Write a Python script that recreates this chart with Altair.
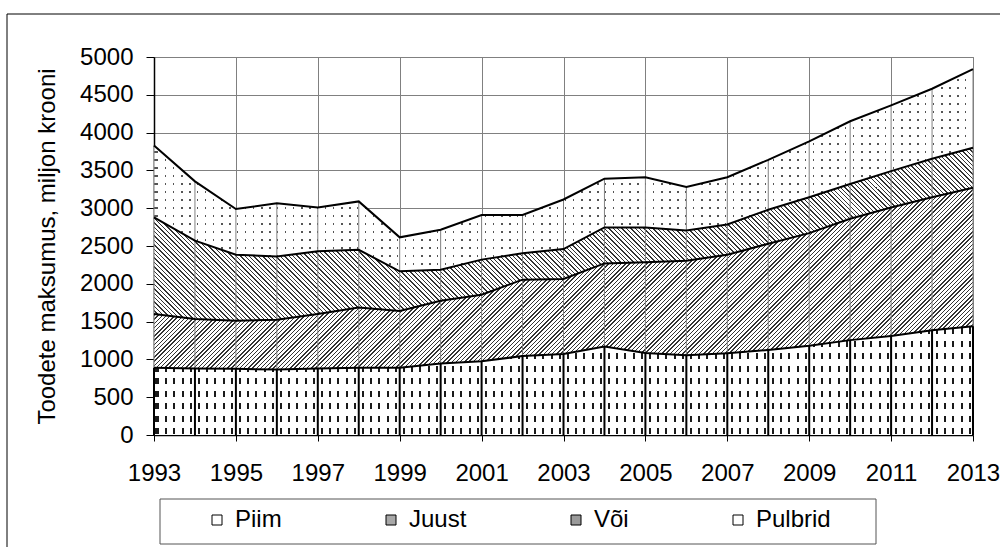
import altair as alt
import pandas as pd

# Dairy product output value, million kroons, by product group
years = list(range(1993, 2014))
piim = [890, 880, 875, 865, 880, 890, 890, 945, 975, 1045, 1070, 1170,
        1085, 1055, 1080, 1125, 1180, 1255, 1310, 1385, 1440]
juust = [710, 655, 635, 660, 720, 795, 750, 830, 880, 1010, 995, 1100,
         1200, 1250, 1305, 1405, 1490, 1605, 1700, 1760, 1830]
voi = [1280, 1035, 875, 835, 830, 765, 525, 410, 465, 350, 395, 475,
       460, 400, 400, 450, 475, 460, 480, 510, 530]
pulbrid = [950, 785, 605, 705, 580, 640, 450, 530, 590, 505, 655, 645,
           665, 575, 625, 660, 740, 830, 870, 925, 1040]
series_names = ["Piim", "Juust", "Või", "Pulbrid"]
x_tick_years = list(range(1993, 2014, 2))
y_ticks = list(range(0, 5001, 500))

W, H, YMAX = 819, 378, 5000
FONT = "Liberation Sans"

rows = []
for i, yr in enumerate(years):
    lo = 0
    for name, vals in zip(series_names, [piim, juust, voi, pulbrid]):
        hi = lo + vals[i]
        rows.append({"year": yr, "series": name, "value": vals[i], "lo": lo, "hi": hi})
        lo = hi
df = pd.DataFrame(rows)

rule_df = pd.DataFrame({"year": years, "zero": [0] * len(years), "piim": piim,
                        "total": [a + b + c + d for a, b, c, d in zip(piim, juust, voi, pulbrid)]})


def px(v):
    return v * H / YMAX


def band_stops(span, period, width, on_col, off_col, phase=0.0):
    """Hard-edged repeating stripes along a gradient that is `span` pixels long."""
    stops = []
    start = phase
    while start < span:
        s, e, n = start, start + width, start + period
        for off, col in ((s, on_col), (e, on_col), (e, off_col), (n, off_col)):
            o = round(min(off / span, 1.0), 5)
            stops.append(alt.GradientStop(offset=o, color=col))
        start = n
    return stops


def columns_fill(period, width, col):
    return alt.LinearGradient(gradient="linear", x1=0, y1=0, x2=1, y2=0,
                              stops=band_stops(W, period, width, col, "white", phase=3))


def rows_mask(hb, period, window):
    return alt.LinearGradient(gradient="linear", x1=0, y1=0, x2=0, y2=1,
                              stops=band_stops(hb, period, window, "rgba(255,255,255,0)", "white", phase=2))


def diagonal_fill(hb, period, width, col, rising=True):
    span = W + hb
    a = round(W * span / (W * W + hb * hb), 5)
    b = round(hb * span / (W * W + hb * hb), 5)
    stops = band_stops(span, period, width, col, "white", phase=1)
    if rising:
        return alt.LinearGradient(gradient="linear", x1=0, y1=0, x2=a, y2=b, stops=stops)
    return alt.LinearGradient(gradient="linear", x1=0, y1=1, x2=a, y2=round(1 - b, 5), stops=stops)


def bbox_h(name):
    sub = df[df.series == name]
    return px(sub.hi.max() - sub.lo.min())


xscale = alt.Scale(domain=[1993, 2013], nice=False, zero=False)
yscale = alt.Scale(domain=[0, YMAX], nice=False)
xaxis = alt.Axis(values=x_tick_years, format="d", title=None, grid=True,
                 gridColor="#808080", gridWidth=1, tickSize=6, tickColor="black",
                 domainColor="black", domainWidth=1.5, labelPadding=20,
                 labelFontSize=24, labelFont=FONT, labelColor="black", labelFlush=False)
yaxis = alt.Axis(values=y_ticks, format="d", title="Toodete maksumus, miljon krooni", grid=True,
                 gridColor="#808080", gridWidth=1, tickSize=8, tickColor="black",
                 domainColor="black", domainWidth=1.5, labelPadding=13,
                 labelFontSize=24, labelFont=FONT, labelColor="black",
                 titleFont=FONT, titleFontSize=24, titleFontWeight="normal",
                 titleColor="black", titleX=-107, titleY=189, titleAngle=270,
                 titleAlign="center", titleBaseline="middle")

X = alt.X("year:Q", scale=xscale, axis=xaxis)


def Yf(field):
    return alt.Y(f"{field}:Q", scale=yscale, axis=yaxis)


base = alt.Chart(df)


def band(name, fill):
    return base.transform_filter(alt.datum.series == name).mark_area(
        interpolate="linear", fill=fill).encode(x=X, y=Yf("hi"), y2="lo")


# patterned bands: dashes (Piim), "/" hatch (Juust), "\" hatch (Või), dots (Pulbrid)
layers = [
    band("Piim", columns_fill(8.2, 2.0, "#1a1a1a")),
    band("Piim", rows_mask(bbox_h("Piim"), 12.5, 6)),
    band("Juust", diagonal_fill(bbox_h("Juust"), 4.2, 1.4, "#333333", rising=True)),
    band("Või", diagonal_fill(bbox_h("Või"), 4.4, 1.25, "#333333", rising=False)),
    band("Pulbrid", columns_fill(8.0, 1.5, "#555555")),
    band("Pulbrid", rows_mask(bbox_h("Pulbrid"), 8, 1.5)),
]

rules_low = alt.Chart(rule_df).mark_rule(color="black", strokeWidth=2).encode(
    x=X, y=Yf("zero"), y2="piim")
rules_high = alt.Chart(rule_df).mark_rule(color="#808080", strokeWidth=1).encode(
    x=X, y=Yf("piim"), y2="total")

outlines = base.mark_line(color="black", strokeWidth=2).encode(
    x=X, y=Yf("hi"), detail="series:N", order="year:Q")

legend_marks = base.mark_square(opacity=0).encode(
    x=X, y=Yf("hi"),
    fill=alt.Fill("series:N",
                  scale=alt.Scale(domain=series_names,
                                  range=["white", "#a8a8a8", "#9a9a9a", "white"]),
                  legend=alt.Legend(orient="none", legendX=51, legendY=451,
                                    direction="horizontal", title=None,
                                    symbolType="square", symbolSize=100,
                                    symbolStrokeColor="black", symbolStrokeWidth=1,
                                    symbolOpacity=1, labelFont=FONT, labelFontSize=24,
                                    labelColor="black", labelOffset=6,
                                    columnPadding=97, padding=0)))

frame_data = alt.Data(values=[{"k": 1}])
legend_box = alt.Chart(frame_data).mark_rect(
    filled=False, stroke="#555555", strokeWidth=1).encode(
    x=alt.value(6), x2=alt.value(722), y=alt.value(442), y2=alt.value(487))
outer_frame = alt.Chart(frame_data).mark_rect(
    filled=False, stroke="black", strokeWidth=1).encode(
    x=alt.value(-147), x2=alt.value(880), y=alt.value(-43), y2=alt.value(600))

chart = alt.layer(*layers, rules_low, rules_high, outlines, legend_marks,
                  legend_box, outer_frame).properties(
    width=W, height=H,
    autosize=alt.AutoSizeParams(type="none"),
    padding={"left": 154, "top": 57, "right": 27, "bottom": 112},
    background="white",
).configure_view(stroke="#808080", strokeWidth=1)

chart.save("out.html", embed_options={"renderer": "svg", "actions": False})
